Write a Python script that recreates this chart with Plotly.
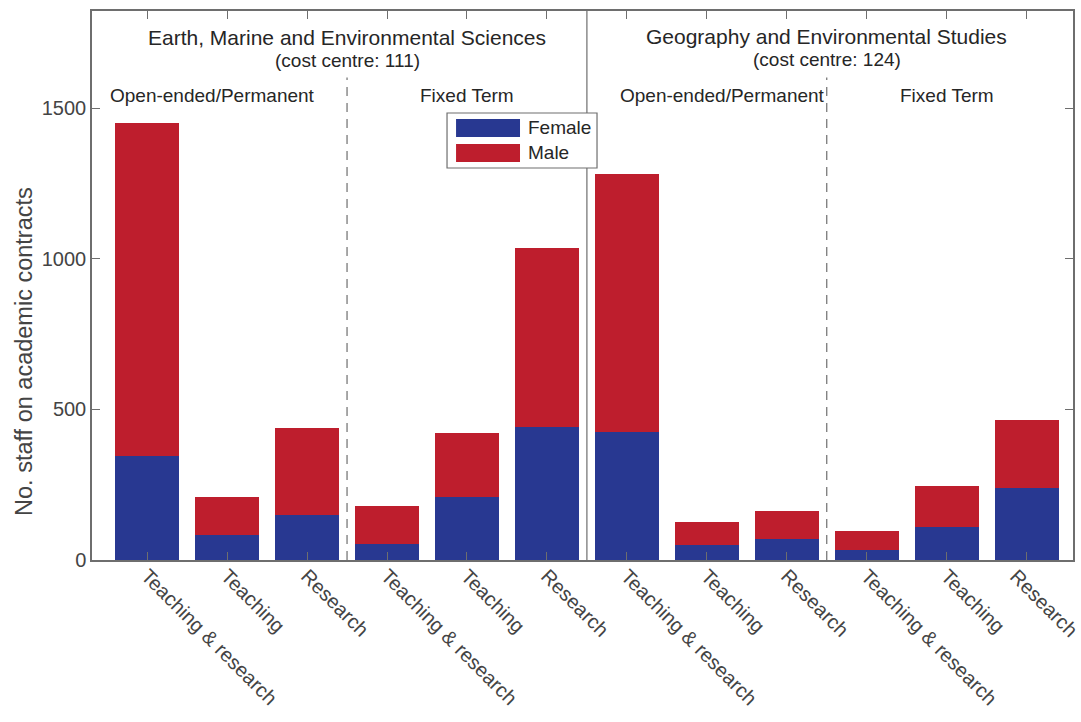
import plotly.graph_objects as go

categories = ["Teaching & research", "Teaching", "Research",
              "Teaching & research", "Teaching", "Research",
              "Teaching & research", "Teaching", "Research",
              "Teaching & research", "Teaching", "Research"]
female = [345, 84, 149, 54, 209, 441, 425, 50, 70, 34, 110, 240]
total = [1450, 209, 437, 179, 421, 1036, 1281, 126, 163, 96, 246, 465]
male = [t - f for t, f in zip(total, female)]
xpos = list(range(1, len(categories) + 1))
series_names = ["Female", "Male"]
series_colors = ["#283891", "#BE1E2D"]
y_title = "No. staff on academic contracts"

FONT = "Liberation Sans, Arial, Helvetica, sans-serif"
AX = "#6e6e6e"
TXT = "#262626"

fig = go.Figure()
fig.add_bar(x=xpos, y=female, name=series_names[0], marker_color=series_colors[0],
            marker_line_width=0, width=0.8)
fig.add_bar(x=xpos, y=male, name=series_names[1], marker_color=series_colors[1],
            marker_line_width=0, width=0.8)

# separators
fig.add_shape(type="line", xref="x", yref="paper", x0=6.5, x1=6.5, y0=0, y1=1,
              line=dict(color=AX, width=1.2))
for xv in (3.5, 9.5):
    fig.add_shape(type="line", xref="x", yref="paper", x0=xv, x1=xv, y0=0, y1=0.879,
                  line=dict(color=AX, width=1.2, dash="9px,7px"))

ann = [
    (3.5, 0.951, "Earth, Marine and Environmental Sciences", 21),
    (3.5, 0.909, "(cost centre: 111)", 19),
    (9.5, 0.953, "Geography and Environmental Studies", 21),
    (9.5, 0.911, "(cost centre: 124)", 19),
    (1.82, 0.846, "Open-ended/Permanent", 19),
    (5.0, 0.846, "Fixed Term", 19),
    (8.2, 0.846, "Open-ended/Permanent", 19),
    (11.0, 0.846, "Fixed Term", 19),
]
for x, y, t, s in ann:
    fig.add_annotation(x=x, y=y, xref="x", yref="paper", text=t, showarrow=False,
                       font=dict(family=FONT, size=s, color=TXT),
                       xanchor="center", yanchor="middle")

# y-axis title
fig.add_annotation(x=-0.0693, y=0.379, xref="paper", yref="paper", text=y_title,
                   showarrow=False, textangle=-90, xanchor="center", yanchor="middle",
                   font=dict(family=FONT, size=23.5, color="#444"))

# rotated category labels along the x axis
for i, (xv, lab) in enumerate(zip(xpos, categories)):
    fig.add_annotation(x=xv, y=0, xref="x", yref="y", text=lab, showarrow=False,
                       textangle=45, xanchor="left", yanchor="top",
                       xshift=-21 if i == len(xpos) - 1 else -10, yshift=-5,
                       borderpad=0, borderwidth=0,
                       font=dict(family=FONT, size=20, color="#444"))

# custom legend (wide swatches)
fig.add_shape(type="rect", xref="paper", yref="paper", x0=0.3619, x1=0.5148,
              y0=0.7140, y1=0.8142, line=dict(color=AX, width=1.2), fillcolor="white")
sw_y = [(0.7705, 0.8033), (0.7250, 0.7577)]
for (y0, y1), name, col in zip(sw_y, series_names, series_colors):
    fig.add_shape(type="rect", xref="paper", yref="paper", x0=0.3711, x1=0.4363,
                  y0=y0, y1=y1, line=dict(width=0), fillcolor=col)
    fig.add_annotation(x=0.4424, y=(y0 + y1) / 2, xref="paper", yref="paper",
                       text=name, showarrow=False, xanchor="left", yanchor="middle",
                       font=dict(family=FONT, size=19, color=TXT))

fig.update_layout(
    barmode="stack",
    width=1081, height=722,
    margin=dict(l=92, r=8, t=11, b=162),
    paper_bgcolor="white", plot_bgcolor="white",
    font=dict(family=FONT, color=TXT),
    showlegend=False,
    xaxis=dict(range=[0.31, 12.58], tickmode="array", tickvals=xpos,
               showticklabels=False, automargin=False,
               showline=True, linecolor=AX, linewidth=1.5, mirror="allticks",
               ticks="inside", ticklen=8, tickcolor=AX, showgrid=False,
               zeroline=False),
    yaxis=dict(range=[0, 1822], tickvals=[0, 500, 1000, 1500], automargin=False,
               tickfont=dict(family=FONT, size=20, color="#444"),
               showline=True, linecolor=AX, linewidth=1.5, mirror="allticks",
               ticks="inside", ticklen=8, tickcolor=AX, showgrid=False,
               zeroline=False),
)

fig.write_html("out.html", config={"displayModeBar": False},
               post_script="document.body.style.margin='0';document.body.style.overflow='hidden';")
